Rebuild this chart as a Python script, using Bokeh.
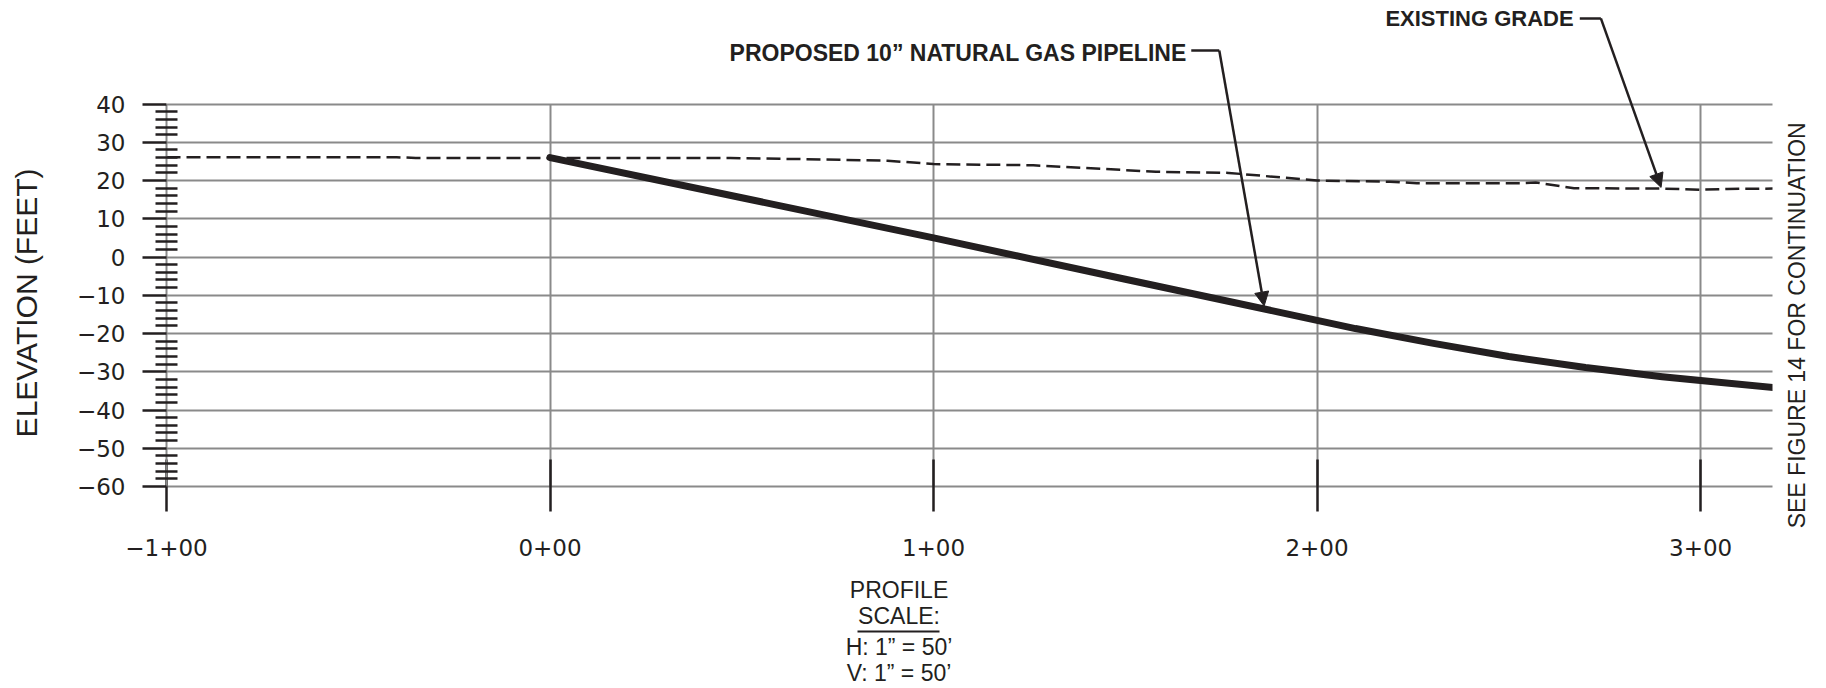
import math
from bokeh.plotting import figure
from bokeh.models import FixedTicker, Label, Arrow, NormalHead, Range1d, LinearAxis
from bokeh.embed import file_html
from bokeh.resources import INLINE

# ---------------- data ----------------
station_ticks = [-100, 0, 100, 200, 300]
station_labels = ["\u22121+00", "0+00", "1+00", "2+00", "3+00"]
elev_ticks = [-60, -50, -40, -30, -20, -10, 0, 10, 20, 30, 40]
elev_labels = ["\u221260", "\u221250", "\u221240", "\u221230", "\u221220", "\u221210", "0", "10", "20", "30", "40"]
elev_minor = [v for v in range(-60, 41, 2) if v % 10 != 0]

grade_sta = [-100, -40, -35, 0, 47, 72, 88, 100, 126, 158, 177, 200, 219, 226, 253, 257, 267, 290, 300, 307, 319.5]
grade_elev = [26.1, 26.1, 25.9, 25.9, 25.9, 25.5, 25.2, 24.3, 24.0, 22.3, 22.0, 20.0, 19.7, 19.3, 19.3, 19.5, 18.0, 17.9, 17.6, 17.8, 17.9]

pipe_sta = [0, 50, 100, 150, 190, 210, 230, 250, 270, 290, 300, 319.5]
pipe_elev = [26.0, 15.5, 5.0, -5.8, -14.4, -18.7, -22.5, -26.0, -28.9, -31.3, -32.3, -34.2]

pipe_label = "PROPOSED 10\u201d NATURAL GAS PIPELINE"
grade_label = "EXISTING GRADE"
side_label = "SEE FIGURE 14 FOR CONTINUATION"
y_title = "ELEVATION (FEET)"
scale_head = "PROFILE\nSCALE:"
scale_body = "H: 1\u201d = 50\u2019\nV: 1\u201d = 50\u2019"

INK = "#231f20"
GRID = "#8a8a8a"
TICK_FONT = "DejaVu Sans"
CAD_FONT = "Liberation Sans"

X_END = 319.5

p = figure(width=1826, height=688,
           x_range=Range1d(-100, 318.75), y_range=Range1d(-60, 67.08),
           output_backend="svg", toolbar_location=None,
           min_border_left=166, min_border_right=52,
           min_border_top=0, min_border_bottom=200)
p.outline_line_color = None
p.background_fill_color = "white"
p.border_fill_color = "white"

# grids
p.xgrid.ticker = FixedTicker(ticks=station_ticks)
p.xgrid.cross_bounds = (-60, 40)
p.ygrid.ticker = FixedTicker(ticks=elev_ticks)
p.ygrid.cross_bounds = (-100, X_END)
for g in (p.xgrid, p.ygrid):
    g.grid_line_color = GRID
    g.grid_line_width = 2


def bare_axis(ax):
    ax.major_tick_out = 0
    ax.major_tick_in = 0
    ax.minor_tick_out = 0
    ax.minor_tick_in = 0
    ax.major_label_text_color = INK


# x axis (stations)
xa = p.xaxis[0]
xa.ticker = FixedTicker(ticks=station_ticks)
xa.bounds = (-100, X_END)
xa.major_label_overrides = dict(zip(station_ticks, station_labels))
xa.axis_line_color = GRID
xa.axis_line_width = 2
xa.major_tick_out = 25
xa.major_tick_in = 27
xa.major_tick_line_color = INK
xa.major_tick_line_width = 2.5
xa.minor_tick_out = 0
xa.minor_tick_in = 0
xa.major_label_standoff = 27
xa.major_label_text_font = TICK_FONT
xa.major_label_text_font_size = "23px"
xa.major_label_text_color = INK

# profile scale note under station 0+91 (two stacked bottom axes; the second's rule underlines "SCALE:")
scale_pos = 91
xs1 = LinearAxis(ticker=FixedTicker(ticks=[scale_pos]))
bare_axis(xs1)
xs1.major_label_overrides = {scale_pos: scale_head}
xs1.axis_line_color = None
xs1.major_label_standoff = 18
xs1.major_label_text_font = CAD_FONT
xs1.major_label_text_font_size = "23px"
xs1.major_label_text_line_height = 1.0
p.add_layout(xs1, "below")

xs2 = LinearAxis(ticker=FixedTicker(ticks=[scale_pos]), bounds=(80.2, 101.6))
bare_axis(xs2)
xs2.major_label_overrides = {scale_pos: scale_body}
xs2.axis_line_color = INK
xs2.axis_line_width = 2
xs2.major_label_standoff = 2
xs2.major_label_text_font = CAD_FONT
xs2.major_label_text_font_size = "23px"
xs2.major_label_text_line_height = 1.0
p.add_layout(xs2, "below")

# y axis (elevation)
ya = p.yaxis[0]
ya.ticker = FixedTicker(ticks=elev_ticks, minor_ticks=elev_minor)
ya.bounds = (-60, 40)
ya.major_label_overrides = dict(zip(elev_ticks, elev_labels))
ya.axis_line_color = GRID
ya.axis_line_width = 2
ya.major_tick_out = 24
ya.major_tick_in = 0
ya.major_tick_line_color = INK
ya.major_tick_line_width = 2.5
ya.minor_tick_out = 11
ya.minor_tick_in = 11
ya.minor_tick_line_color = INK
ya.minor_tick_line_width = 2.5
ya.major_label_standoff = 17
ya.major_label_text_font = TICK_FONT
ya.major_label_text_font_size = "23px"
ya.major_label_text_color = INK

# second left axis: vertical title
title_pos = -12
yt = LinearAxis(ticker=FixedTicker(ticks=[title_pos]))
bare_axis(yt)
yt.major_label_overrides = {title_pos: y_title}
yt.major_label_orientation = "vertical"
yt.axis_line_color = None
yt.major_label_standoff = 30
yt.major_label_text_font = CAD_FONT
yt.major_label_text_font_size = "30px"
p.add_layout(yt, "left")

# right axis: continuation note
note_pos = -7.2
yr = LinearAxis(ticker=FixedTicker(ticks=[note_pos]))
bare_axis(yr)
yr.major_label_overrides = {note_pos: side_label}
yr.major_label_orientation = math.pi / 2
yr.axis_line_color = None
yr.major_label_standoff = 25
yr.major_label_text_font = CAD_FONT
yr.major_label_text_font_size = "23px"
p.add_layout(yr, "right")

# data lines
p.line(grade_sta, grade_elev, line_color=INK, line_width=2.5, line_dash="14 6")
p.line(pipe_sta, pipe_elev, line_color=INK, line_width=7, line_cap="round", line_join="round")

# callouts
p.add_layout(Label(x=166, y=53.4, text=pipe_label, text_align="right", text_baseline="middle",
                   text_font=CAD_FONT, text_font_style="bold", text_font_size="23px", text_color=INK))
p.add_layout(Arrow(x_start=167.2, y_start=54.0, x_end=174.5, y_end=54.0, end=None,
                   line_color=INK, line_width=2.5))
p.add_layout(Arrow(x_start=174.5, y_start=54.0, x_end=186.2, y_end=-12.8,
                   end=NormalHead(size=14, fill_color=INK, line_color=INK),
                   line_color=INK, line_width=2.5))

p.add_layout(Label(x=266.9, y=62.3, text=grade_label, text_align="right", text_baseline="middle",
                   text_font=CAD_FONT, text_font_style="bold", text_font_size="22px", text_color=INK))
p.add_layout(Arrow(x_start=268.5, y_start=62.4, x_end=274.0, y_end=62.4, end=None,
                   line_color=INK, line_width=2.5))
p.add_layout(Arrow(x_start=274.0, y_start=62.4, x_end=289.7, y_end=18.2,
                   end=NormalHead(size=14, fill_color=INK, line_color=INK),
                   line_color=INK, line_width=2.5))

open("out.html", "w").write(file_html(p, INLINE))
